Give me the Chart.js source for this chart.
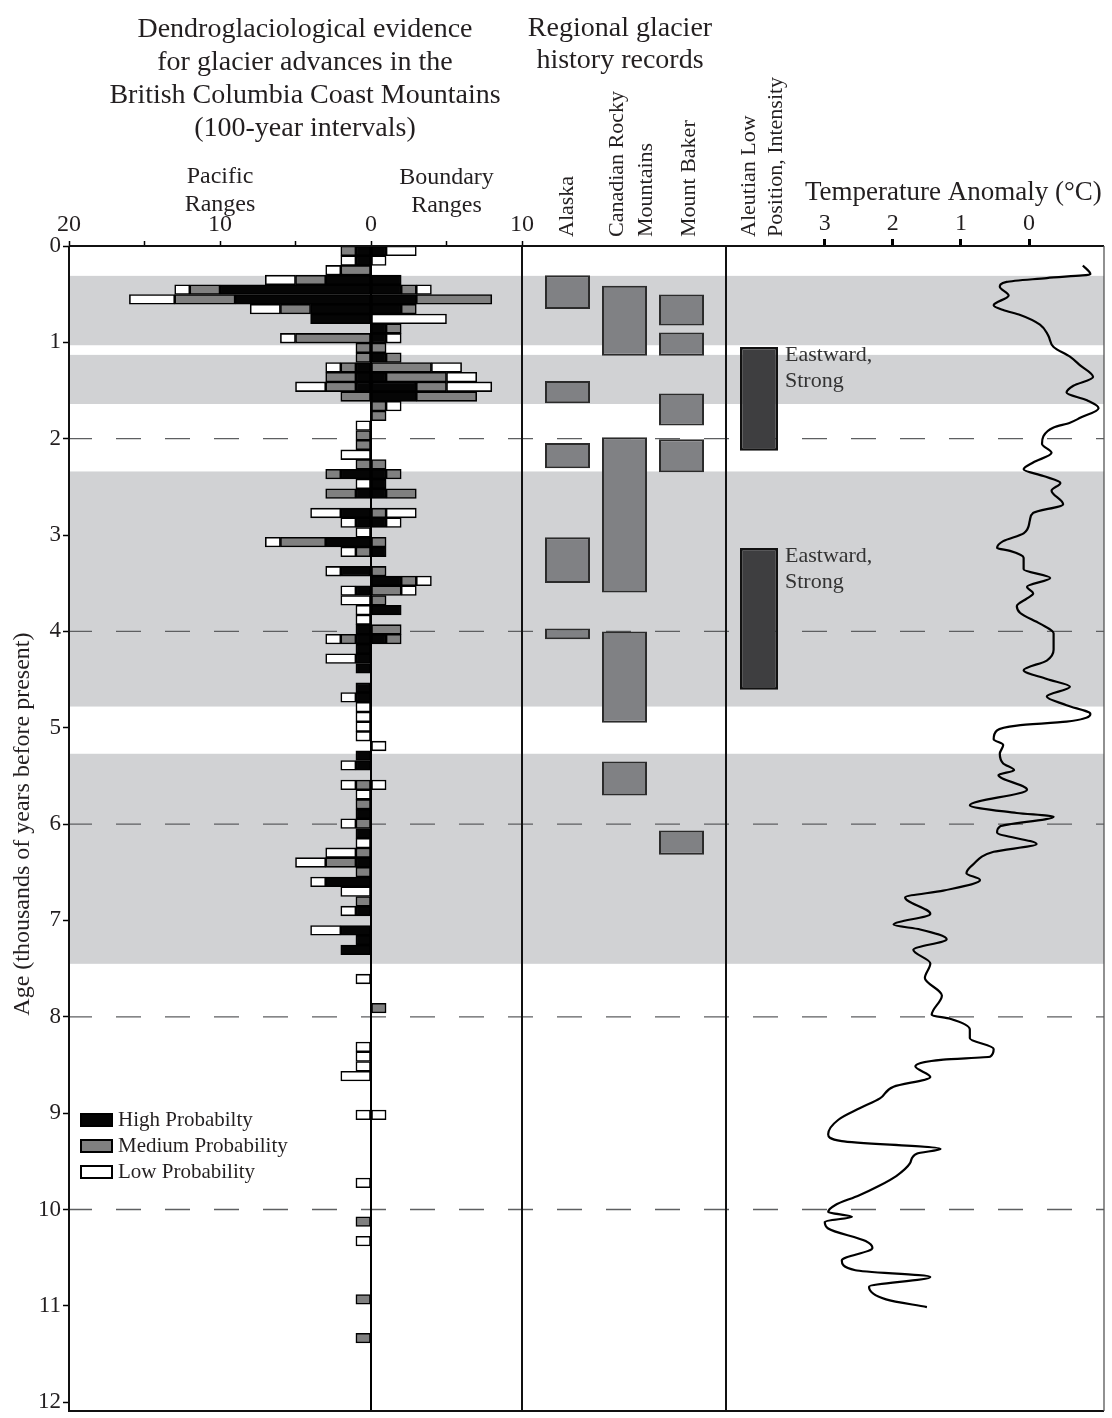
<!DOCTYPE html>
<html>
<head>
<meta charset="utf-8">
<title>Holocene glacier advances, British Columbia Coast Mountains</title>
<script src="https://cdn.jsdelivr.net/npm/chart.js@4.4.1/dist/chart.umd.min.js"></script>
<style>
  html, body { margin: 0; padding: 0; background: #fff; }
  #wrap { position: relative; width: 1112px; height: 1418px; }
  #wrap canvas { position: absolute; left: 0; top: 0; }
</style>
</head>
<body>
<div id="wrap">
  <canvas id="frame" width="1112" height="1418"></canvas>
  <canvas id="hist" width="1112" height="1418"></canvas>
  <canvas id="records" width="1112" height="1418"></canvas>
  <canvas id="aleutian" width="1112" height="1418"></canvas>
  <canvas id="temp" width="1112" height="1418"></canvas>
</div>
<script>
// ---------------------------------------------------------------------------
// Data (ages in thousands of years before present)
// ---------------------------------------------------------------------------

// Start age of each 100-year interval that holds at least one dated advance
const binStartAge = [
  0.0, 0.1, 0.2, 0.3, 0.4, 0.5, 0.6, 0.7, 0.8, 0.9, 1.0, 1.1, 1.2, 1.3, 1.4, 1.5, 1.6, 1.7, 1.8, 1.9, 2.0, 2.1, 2.2, 2.3, 2.4, 2.5,
  2.7, 2.8, 2.9, 3.0, 3.1,
  3.3, 3.4, 3.5, 3.6, 3.7, 3.8, 3.9, 4.0, 4.1, 4.2, 4.3,
  4.5, 4.6, 4.7, 4.8, 4.9, 5.0, 5.1, 5.2, 5.3,
  5.5, 5.6, 5.7, 5.8, 5.9, 6.0, 6.1, 6.2, 6.3, 6.4, 6.5, 6.6, 6.7, 6.8,
  7.0, 7.1, 7.2, 7.5, 7.8, 8.2, 8.3, 8.4, 8.5, 8.9, 9.6, 10.0, 10.2, 10.8, 11.2
];

// Number of sites per interval, Pacific Ranges
const pacificHigh = [
  1, 1, 0, 3, 10, 9, 4, 4, 0, 0, 0, 0, 1, 1, 1, 0, 0, 0, 0, 0, 0, 0, 0, 2, 0, 1,
  2, 1, 0, 3, 0,
  2, 0, 1, 0, 0, 0, 1, 1, 1, 1, 1,
  1, 1, 0, 0, 0, 0, 0, 1, 1,
  0, 0, 0, 1, 0, 1, 0, 0, 1, 0, 3, 0, 0, 1,
  2, 1, 2, 0, 0, 0, 0, 0, 0, 0, 0, 0, 0, 0, 0
];
const pacificMedium = [
  1, 0, 2, 2, 2, 4, 2, 0, 0, 5, 1, 1, 1, 2, 2, 2, 0, 0, 0, 1, 1, 0, 1, 1, 0, 2,
  0, 0, 0, 3, 1,
  0, 0, 0, 0, 0, 0, 0, 1, 0, 0, 0,
  0, 0, 0, 0, 0, 0, 0, 0, 0,
  1, 0, 1, 0, 1, 0, 0, 1, 2, 1, 0, 0, 1, 0,
  0, 0, 0, 0, 0, 0, 0, 0, 0, 0, 0, 1, 0, 1, 1
];
const pacificLow = [
  0, 1, 1, 2, 1, 3, 2, 0, 0, 1, 0, 0, 1, 0, 2, 0, 0, 0, 1, 0, 0, 2, 0, 0, 1, 0,
  2, 1, 1, 1, 1,
  1, 0, 1, 2, 1, 1, 0, 1, 0, 2, 0,
  0, 1, 1, 1, 1, 1, 0, 0, 1,
  1, 1, 0, 0, 1, 0, 1, 2, 2, 0, 1, 2, 0, 1,
  2, 0, 0, 1, 0, 1, 1, 1, 2, 1, 1, 0, 1, 0, 0
];

// Number of sites per interval, Boundary Ranges
const boundaryHigh = [
  1, 0, 0, 2, 2, 3, 2, 0, 1, 1, 0, 1, 0, 1, 3, 3, 0, 0, 0, 0, 0, 0, 0, 1, 1, 1,
  0, 1, 0, 0, 1,
  0, 2, 0, 0, 2, 0, 0, 1, 0, 0, 0,
  0, 0, 0, 0, 0, 0, 0, 0, 0,
  0, 0, 0, 0, 0, 0, 0, 0, 0, 0, 0, 0, 0, 0,
  0, 0, 0, 0, 0, 0, 0, 0, 0, 0, 0, 0, 0, 0, 0
];
const boundaryMedium = [
  0, 0, 0, 0, 1, 5, 1, 0, 1, 0, 1, 1, 4, 4, 2, 4, 1, 1, 0, 0, 0, 0, 1, 1, 0, 2,
  1, 0, 0, 1, 0,
  1, 1, 2, 1, 0, 0, 2, 1, 0, 0, 0,
  0, 0, 0, 0, 0, 0, 0, 0, 0,
  0, 0, 0, 0, 0, 0, 0, 0, 0, 0, 0, 0, 0, 0,
  0, 0, 0, 0, 1, 0, 0, 0, 0, 0, 0, 0, 0, 0, 0
];
const boundaryLow = [
  2, 1, 0, 0, 1, 0, 0, 5, 0, 1, 0, 0, 2, 2, 3, 0, 1, 0, 0, 0, 0, 0, 0, 0, 0, 0,
  2, 1, 0, 0, 0,
  0, 1, 1, 0, 0, 0, 0, 0, 0, 0, 0,
  0, 0, 0, 0, 0, 0, 1, 0, 0,
  1, 0, 0, 0, 0, 0, 0, 0, 0, 0, 0, 0, 0, 0,
  0, 0, 0, 0, 0, 0, 0, 0, 0, 1, 0, 0, 0, 0, 0
];

const probabilityLabels = ['High Probabilty', 'Medium Probability', 'Low Probability'];

// Regional glacier advance records [start, end]
const recordLabels = [['Alaska'], ['Canadian Rocky', 'Mountains'], ['Mount Baker']];
const alaskaAdvances = [[0.30, 0.65], [1.39, 1.62], [2.03, 2.29], [3.00, 3.47], [3.94, 4.05]];
const rockiesAdvances = [[0.41, 1.13], [1.97, 3.57], [3.97, 4.91], [5.31, 5.66]];
const bakerAdvances = [[0.50, 0.82], [0.89, 1.13], [1.52, 1.85], [1.99, 2.33], [6.02, 6.27]];

// Aleutian Low position / intensity
const aleutianLabels = [['Aleutian Low', 'Position, Intensity']];
const aleutianPeriods = [[1.04, 2.11], [3.11, 4.57]];
const aleutianNotes = [['Eastward,', 'Strong'], ['Eastward,', 'Strong']];

// Temperature anomaly record
const tempAge = [
  0.20, 0.29, 0.33, 0.37, 0.42, 0.51, 0.61, 0.66, 0.71, 0.81, 0.92, 1.04, 1.14, 1.23, 1.35, 1.44, 1.51, 1.59, 1.67, 1.77,
  1.82, 1.87, 1.96, 2.04, 2.13, 2.23, 2.30, 2.37, 2.44, 2.52, 2.66, 2.75, 2.83, 2.96, 3.04, 3.11, 3.14, 3.21, 3.33, 3.42,
  3.51, 3.58, 3.63, 3.71, 3.78, 3.89, 3.99, 4.16, 4.27, 4.37, 4.46, 4.54, 4.64, 4.73, 4.82, 4.90, 4.94, 4.99, 5.08, 5.14,
  5.23, 5.33, 5.40, 5.45, 5.60, 5.76, 5.84, 5.88, 5.98, 6.04, 6.16, 6.24, 6.37, 6.46, 6.53, 6.64, 6.71, 6.88, 6.99, 7.04,
  7.14, 7.25, 7.39, 7.54, 7.72, 7.92, 7.96, 8.07, 8.16, 8.27, 8.35, 8.38, 8.45, 8.56, 8.66, 8.78, 8.88, 9.00, 9.15, 9.22,
  9.30, 9.35, 9.45, 9.58, 9.68, 9.78, 9.88, 9.95, 10.00, 10.05, 10.12, 10.25, 10.32, 10.45, 10.55, 10.62, 10.72, 10.85, 10.93
];
const tempAnomaly = [
  -0.79, -0.90, -0.26, 0.33, 0.43, 0.30, 0.52, 0.38, 0.13, -0.16, -0.28, -0.36, -0.60, -0.75, -0.94, -0.65, -0.55, -0.85, -1.02, -0.75,
  -0.60, -0.36, -0.21, -0.19, -0.33, -0.06, 0.08, -0.21, -0.46, -0.33, -0.50, -0.06, -0.01, 0.08, 0.38, 0.47, 0.28, 0.08, 0.08, -0.31,
  0.03, -0.06, 0.03, 0.18, 0.13, -0.16, -0.36, -0.36, -0.26, 0.08, -0.26, -0.60, -0.26, -0.55, -0.90, -0.55, 0.18, 0.47, 0.52, 0.38,
  0.43, 0.38, 0.22, 0.45, 0.03, 0.87, 0.18, -0.36, 0.43, 0.47, -0.11, 0.52, 0.82, 0.92, 0.72, 1.26, 1.82, 1.45, 1.99, 1.60,
  1.21, 1.70, 1.45, 1.53, 1.28, 1.43, 1.16, 0.87, 0.87, 0.52, 0.57, 1.26, 1.67, 1.45, 1.99, 2.19, 2.48, 2.80, 2.95, 2.75,
  1.30, 1.65, 1.75, 1.95, 2.20, 2.50, 2.85, 2.95, 2.60, 3.00, 2.95, 2.40, 2.30, 2.75, 2.55, 1.45, 2.35, 2.10, 1.50
];
const tempTicks = [3, 2, 1, 0];

// Cool intervals shaded across all panels, and millennial guide lines
const coolBands = [[0.31, 1.03], [1.13, 1.64], [2.34, 4.78], [5.27, 7.45]];
const guideAges = [2, 4, 6, 8, 10];
const ageTicks = [0, 1, 2, 3, 4, 5, 6, 7, 8, 9, 10, 11, 12];

// ---------------------------------------------------------------------------
// Layout and styling
// ---------------------------------------------------------------------------
const W = 1112, H = 1418;
const box = { top: 246, bottom: 1411, left: 69, histRight: 522, recLeft: 539, recRight: 710,
              split: 726, aleutRight: 792, right: 1104, axisBand: 40 };
const ink = '#231f20';
const serif = '"Liberation Serif", "Times New Roman", serif';
const colors = { high: '#050505', medium: '#808080', low: '#ffffff', band: '#d1d2d4',
                 record: '#808184', recordEdge: '#2b2b2b', aleutian: '#3e3e40', aleutianEdge: '#111111' };

Chart.defaults.font.family = serif;
Chart.defaults.color = ink;

const common = {
  responsive: false,
  animation: false,
  events: [],
  plugins: { legend: { display: false }, tooltip: { enabled: false }, colors: { enabled: false } }
};
const ageAxis = { type: 'linear', min: 0, max: 12, reverse: true, offset: false, display: false };

function drawText(ctx, text, x, y, o = {}) {
  ctx.save();
  ctx.translate(x, y);
  if (o.rotate) ctx.rotate(o.rotate);
  ctx.font = `${o.size || 28}px ${serif}`;
  ctx.fillStyle = o.color || ink;
  ctx.textAlign = o.align || 'left';
  ctx.textBaseline = o.baseline || 'alphabetic';
  ctx.fillText(text, 0, 0);
  ctx.restore();
}

// Column headings set vertically above the narrow panels
function verticalHeadings(lineOffsets) {
  return {
    id: 'verticalHeadings',
    afterDraw(chart) {
      const xs = chart.scales.x;
      chart.data.labels.forEach((lab, i) => {
        const cx = xs.getPixelForValue(i);
        lab.forEach((t, j) => drawText(chart.ctx, t, cx + lineOffsets[i][j], box.top - 9,
          { size: 22, rotate: -Math.PI / 2, baseline: 'middle' }));
      });
    }
  };
}

// ---------------------------------------------------------------------------
// Background: age axis, shaded cool intervals and dashed guides
// ---------------------------------------------------------------------------
const backdrop = {
  id: 'backdrop',
  beforeDraw(chart) {
    const { ctx, chartArea: a, scales: { y } } = chart;
    ctx.save();
    ctx.fillStyle = colors.band;
    coolBands.forEach(([s, e]) => {
      const y0 = y.getPixelForValue(s), y1 = y.getPixelForValue(e);
      ctx.fillRect(a.left, y0, a.right - a.left, y1 - y0);
    });
    ctx.strokeStyle = '#5e5f61';
    ctx.lineWidth = 1.3;
    ctx.setLineDash([25, 24]);
    ctx.lineDashOffset = 2;
    guideAges.forEach(v => {
      const py = y.getPixelForValue(v);
      ctx.beginPath();
      ctx.moveTo(a.left, py);
      ctx.lineTo(a.right, py);
      ctx.stroke();
    });
    ctx.restore();
  }
};

new Chart(document.getElementById('frame'), {
  type: 'line',
  data: { datasets: [] },
  options: {
    ...common,
    layout: { padding: { left: 0, right: W - box.right, top: box.top, bottom: H - box.bottom } },
    scales: {
      x: { type: 'linear', display: false, min: 0, max: 1 },
      y: {
        type: 'linear', min: 0, max: 12, reverse: true, position: 'left', offset: false,
        afterFit: s => { s.width = box.left; },
        afterBuildTicks: s => { s.ticks = ageTicks.map(v => ({ value: v })); },
        ticks: { autoSkip: false, padding: 2, color: ink, font: { size: 23 } },
        grid: { drawOnChartArea: false, tickLength: 6, tickColor: '#000', tickWidth: 1.5 },
        border: { display: false },
        title: { display: true, text: 'Age (thousands of years before present)', color: ink,
                 font: { size: 24 }, padding: { top: 8, bottom: 0 } }
      }
    }
  },
  plugins: [backdrop]
});

// ---------------------------------------------------------------------------
// Dendroglaciological histogram (Pacific Ranges left, Boundary Ranges right)
// ---------------------------------------------------------------------------
function rangeSeries(label, values, sign, color) {
  return {
    label,
    data: binStartAge.map((a, i) => ({ y: a + 0.05, x: values[i] ? sign * values[i] : null })),
    backgroundColor: color,
    borderColor: '#000'
  };
}

const histDecor = {
  id: 'histDecor',
  afterDatasetsDraw(chart) {
    const { ctx, chartArea: a, scales: { x } } = chart;
    const x0 = x.getPixelForValue(0);
    ctx.save();
    ctx.strokeStyle = '#000';
    ctx.lineWidth = 2;
    ctx.beginPath();
    ctx.moveTo(x0, a.top);
    ctx.lineTo(x0, a.bottom);
    ctx.stroke();
    ctx.restore();
  },
  afterDraw(chart) {
    const { ctx, scales: { x } } = chart;
    ['Dendroglaciological evidence', 'for glacier advances in the',
     'British Columbia Coast Mountains', '(100-year intervals)']
      .forEach((t, i) => drawText(ctx, t, 305, 37 + i * 33, { size: 28, align: 'center' }));
    const pac = x.getPixelForValue(-10), bnd = x.getPixelForValue(5);
    drawText(ctx, 'Pacific', pac, 183, { size: 24, align: 'center' });
    drawText(ctx, 'Ranges', pac, 211, { size: 24, align: 'center' });
    drawText(ctx, 'Boundary', bnd, 184, { size: 24, align: 'center' });
    drawText(ctx, 'Ranges', bnd, 212, { size: 24, align: 'center' });

    // legend
    chart.data.datasets.slice(0, 3).forEach((ds, i) => {
      const top = 1114 + i * 26;
      ctx.save();
      ctx.fillStyle = ds.backgroundColor;
      ctx.fillRect(81, top, 31, 12);
      ctx.strokeStyle = '#000';
      ctx.lineWidth = 2;
      ctx.strokeRect(81, top, 31, 12);
      ctx.restore();
      drawText(ctx, ds.label, 118, top + 12, { size: 21 });
    });
  }
};

new Chart(document.getElementById('hist'), {
  type: 'bar',
  data: {
    datasets: [
      rangeSeries(probabilityLabels[0], pacificHigh, -1, colors.high),
      rangeSeries(probabilityLabels[1], pacificMedium, -1, colors.medium),
      rangeSeries(probabilityLabels[2], pacificLow, -1, colors.low),
      rangeSeries(probabilityLabels[0], boundaryHigh, 1, colors.high),
      rangeSeries(probabilityLabels[1], boundaryMedium, 1, colors.medium),
      rangeSeries(probabilityLabels[2], boundaryLow, 1, colors.low)
    ]
  },
  options: {
    ...common,
    indexAxis: 'y',
    layout: { padding: { left: box.left, right: W - box.histRight, top: box.top - box.axisBand, bottom: H - box.bottom } },
    datasets: { bar: { categoryPercentage: 1, barPercentage: 1, borderWidth: 1.6, borderSkipped: false } },
    scales: {
      x: {
        type: 'linear', position: 'top', min: -20, max: 10, stacked: true,
        afterFit: s => { s.height = box.axisBand; },
        ticks: { stepSize: 5, autoSkip: false, maxRotation: 0, padding: 2, color: ink, font: { size: 24 },
                 callback: v => (v % 10 === 0 ? String(Math.abs(v)) : '') },
        grid: { drawOnChartArea: false, tickLength: 5, tickColor: '#000', tickWidth: 1.5 },
        border: { display: false }
      },
      y: { ...ageAxis, stacked: true }
    }
  },
  plugins: [histDecor]
});

// ---------------------------------------------------------------------------
// Regional glacier history records
// ---------------------------------------------------------------------------
const recordColumns = [alaskaAdvances, rockiesAdvances, bakerAdvances];
const recordDepth = Math.max(...recordColumns.map(c => c.length));
const recordSets = Array.from({ length: recordDepth }, (_, j) => ({
  label: 'Advance ' + (j + 1),
  data: recordColumns.map(c => c[j] || null),
  backgroundColor: colors.record,
  borderColor: colors.recordEdge
}));

new Chart(document.getElementById('records'), {
  type: 'bar',
  data: { labels: recordLabels, datasets: recordSets },
  options: {
    ...common,
    layout: { padding: { left: box.recLeft, right: W - box.recRight, top: box.top, bottom: H - box.bottom } },
    datasets: { bar: { grouped: false, categoryPercentage: 1, barPercentage: 0.79, borderWidth: 2, borderSkipped: false } },
    scales: { x: { display: false }, y: ageAxis }
  },
  plugins: [
    verticalHeadings([[0], [-7, 22], [8]]),
    { id: 'recordTitle', afterDraw(chart) {
        drawText(chart.ctx, 'Regional glacier', 620, 36, { size: 28, align: 'center' });
        drawText(chart.ctx, 'history records', 620, 68, { size: 28, align: 'center' });
    } }
  ]
});

// ---------------------------------------------------------------------------
// Aleutian Low position and intensity
// ---------------------------------------------------------------------------
new Chart(document.getElementById('aleutian'), {
  type: 'bar',
  data: {
    labels: aleutianLabels,
    datasets: aleutianPeriods.map((p, i) => ({
      label: aleutianNotes[i].join(' '),
      data: [p],
      backgroundColor: colors.aleutian,
      borderColor: colors.aleutianEdge
    }))
  },
  options: {
    ...common,
    layout: { padding: { left: box.split, right: W - box.aleutRight, top: box.top, bottom: H - box.bottom } },
    datasets: { bar: { grouped: false, categoryPercentage: 1, barPercentage: 0.576, borderWidth: 2.5, borderSkipped: false } },
    scales: { x: { display: false }, y: ageAxis }
  },
  plugins: [
    verticalHeadings([[-10, 17]]),
    { id: 'aleutianNotes', afterDraw(chart) {
        chart.data.datasets.forEach((ds, i) => {
          const bar = chart.getDatasetMeta(i).data[0];
          const top = Math.min(bar.y, bar.base);
          const right = bar.x + bar.width / 2;
          aleutianNotes[i].forEach((t, j) =>
            drawText(chart.ctx, t, right + 7, top + 14 + j * 26, { size: 22, color: '#333' }));
        });
    } }
  ]
});

// ---------------------------------------------------------------------------
// Temperature anomaly curve, with the figure frame drawn on top
// ---------------------------------------------------------------------------
const frameLines = {
  id: 'frameLines',
  afterDraw(chart) {
    const { ctx, chartArea: a } = chart;
    drawText(ctx, 'Temperature Anomaly (\u00B0C)', 805, 200, { size: 27 });
    ctx.save();
    ctx.strokeStyle = '#111';
    ctx.lineWidth = 2;
    ctx.beginPath();
    ctx.moveTo(box.left, a.top); ctx.lineTo(box.right, a.top);
    ctx.moveTo(box.left, a.top); ctx.lineTo(box.left, a.bottom); ctx.lineTo(box.right, a.bottom);
    [box.histRight, box.split].forEach(x => { ctx.moveTo(x, a.top); ctx.lineTo(x, a.bottom); });
    ctx.stroke();
    ctx.strokeStyle = '#555';
    ctx.lineWidth = 1.3;
    ctx.beginPath();
    ctx.moveTo(box.right, a.top); ctx.lineTo(box.right, a.bottom);
    ctx.stroke();
    ctx.restore();
  }
};

new Chart(document.getElementById('temp'), {
  type: 'line',
  data: {
    datasets: [{
      label: 'Temperature anomaly',
      data: tempAge.map((a, i) => ({ x: tempAnomaly[i], y: a })),
      borderColor: '#000',
      borderWidth: 2.2,
      pointRadius: 0,
      fill: false,
      cubicInterpolationMode: 'monotone'
    }]
  },
  options: {
    ...common,
    indexAxis: 'y',
    layout: { padding: { left: box.split, right: W - box.right, top: box.top - box.axisBand, bottom: H - box.bottom } },
    scales: {
      x: {
        type: 'linear', position: 'top', min: -1.1, max: 4.45, reverse: true,
        afterFit: s => { s.height = box.axisBand; },
        afterBuildTicks: s => { s.ticks = tempTicks.map(v => ({ value: v })); },
        ticks: { autoSkip: false, maxRotation: 0, padding: 1, color: ink, font: { size: 24 } },
        grid: { drawOnChartArea: false, tickLength: 7, tickColor: '#000', tickWidth: 3 },
        border: { display: false }
      },
      y: ageAxis
    }
  },
  plugins: [frameLines]
});
</script>
</body>
</html>
